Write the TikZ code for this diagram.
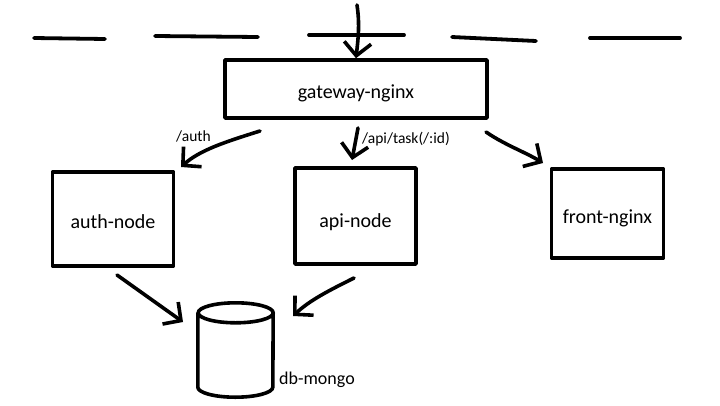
\documentclass[tikz,border=0pt]{standalone}
\usepackage{fontspec}
\setmainfont{Carlito}
\usetikzlibrary{arrows.meta}
\tikzset{
  sk/.style={line width=3.6pt, line cap=round, line join=round},
  boxnode/.style={draw, sk, minimum width=#1, inner sep=0pt, font=\fontsize{20}{21}\selectfont, text depth=4pt},
  low/.style={text height=#1},
  arr/.style={sk, -{Straight Barb[length=13pt,width=27pt,line width=3.6pt]}},
  lbl/.style={font=\fontsize{15.5}{16}\selectfont, inner sep=0pt},
  dashseg/.style={sk, line width=3.8pt}
}
\begin{document}
\begin{tikzpicture}[x=1pt,y=-1pt]
\useasboundingbox (0,0) rectangle (720,405);
% boundary dashes
\draw[dashseg] (34,38) -- (105,39);
\draw[dashseg] (155,36) -- (258,37);
\draw[dashseg] (309,35) -- (404,35);
\draw[dashseg] (452,37) -- (536,41);
\draw[dashseg] (590,38) -- (680,38);
% nodes
\node[boxnode=262pt, minimum height=58pt, low=23pt] (gw) at (356,89) {gateway-nginx};
\node[boxnode=121pt, minimum height=94pt, low=23pt] (auth) at (113,219) {auth-node};
\node[boxnode=121pt, minimum height=96pt, low=26pt] (api) at (355.5,216) {api-node};
\node[boxnode=112pt, minimum height=89pt, low=24pt] (front) at (607.5,213.5) {front-nginx};
% database cylinder
\node[minimum width=75pt, minimum height=94pt, inner sep=0pt] (db) at (235.5,350) {};
\draw[sk] ([yshift=-10pt]db.north west) -- ([yshift=10pt]db.south west)
  arc[start angle=180, end angle=360, x radius=37.5pt, y radius=10pt]
  -- ([yshift=-10pt]db.north east)
  arc[start angle=0, end angle=180, x radius=37.5pt, y radius=10pt]
  arc[start angle=180, end angle=360, x radius=37.5pt, y radius=10pt];
\node[lbl, font=\fontsize{18}{19}\selectfont, anchor=west] (dbl) at (279,380) {db-mongo};
% top arrow
\coordinate (topin) at (357,5);
\draw[arr] (topin) .. controls (360,25) and (358,40) .. (gw.north);
% gateway arrows
\coordinate (a1) at (260,131);
\coordinate (a2) at (181,167);
\draw[arr] (a1) .. controls (225,142) and (200,150) .. (a2);
\node[lbl, anchor=south west] (authl) at (176,142) {/auth};
\coordinate (b1) at (358,128);
\coordinate (b2) at (352,160);
\draw[arr] (b1) -- (b2);
\node[lbl, anchor=west] (apil) at (362,139) {/api/task(/:id)};
\coordinate (c1) at (486,132);
\coordinate (c2) at (543,163);
\draw[arr] (c1) .. controls (505,145) and (525,152) .. (c2);
% to db
\coordinate (d1) at (117,275);
\coordinate (d2) at (183,322);
\draw[arr] (d1) -- (d2);
\coordinate (e1) at (354,278);
\coordinate (e2) at (293,316);
\draw[arr] (e1) .. controls (330,290) and (310,300) .. (e2);
\end{tikzpicture}
\end{document}
